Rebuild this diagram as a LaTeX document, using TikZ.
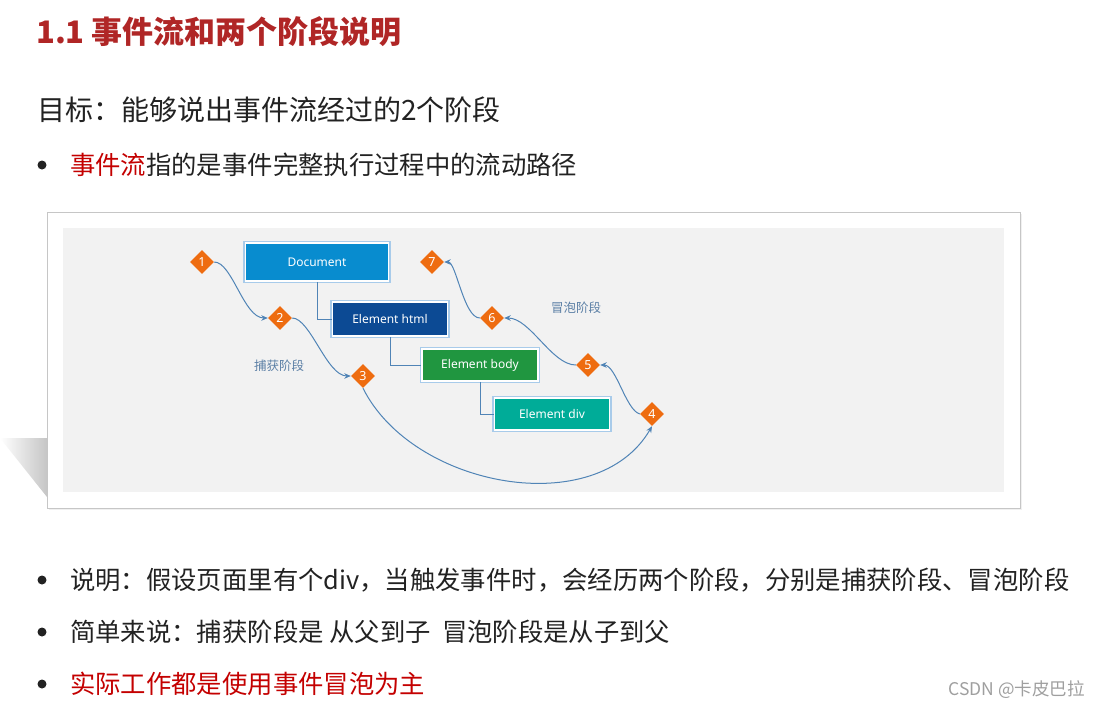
\documentclass[tikz,border=0pt]{standalone}
\usepackage{fontspec}
\setmainfont{Noto Sans CJK SC}
\newfontfamily\cjk{Noto Sans CJK SC}
\newfontfamily\latinsans{Noto Sans}
\usetikzlibrary{shapes.geometric,arrows.meta,calc}
\definecolor{titlered}{RGB}{176,38,38}
\definecolor{hotred}{RGB}{196,0,0}
\definecolor{textdark}{RGB}{34,34,34}
\definecolor{docblue}{RGB}{8,140,207}
\definecolor{htmlblue}{RGB}{12,74,148}
\definecolor{bodygreen}{RGB}{32,150,64}
\definecolor{divteal}{RGB}{0,172,152}
\definecolor{edgeblue}{RGB}{168,203,234}
\definecolor{diaorange}{RGB}{238,108,16}
\definecolor{flowblue}{RGB}{80,132,182}
\definecolor{labelblue}{RGB}{92,128,166}
\definecolor{panelgray}{RGB}{242,242,242}
\tikzset{
  elembox/.style={rectangle, minimum height=#1, inner sep=0pt, text=white,
    font=\latinsans\fontsize{12}{14}\selectfont,
    draw=white, line width=1.6pt,
    preaction={draw=edgeblue, line width=4.4pt}},
  marker/.style={diamond, fill=diaorange, minimum width=24pt, minimum height=24pt,
    inner sep=0pt, text=white, font=\latinsans\fontsize{12.5}{14}\selectfont},
  flow/.style={draw=flowblue, line width=1pt, -{Stealth[length=6.5pt,width=5.5pt]}},
  treeline/.style={draw=flowblue, line width=1pt},
  phase/.style={text=labelblue, font=\cjk\fontsize{12.5}{14}\selectfont},
  bodytext/.style={anchor=west, inner sep=0pt, text=textdark, font=\cjk\fontsize{25.35}{30}\selectfont},
  dot/.style={circle, fill=textdark, minimum size=9pt, inner sep=0pt}
}
\begin{document}
\begin{tikzpicture}[x=1pt,y=-1pt]
\useasboundingbox (0,0) rectangle (1100,707);
\fill[white] (0,0) rectangle (1100,707);

% title
\node[anchor=west, inner sep=0pt, text=titlered, font=\cjk\bfseries\fontsize{31}{36}\selectfont] (title) at (36,32) {1.1 事件流和两个阶段说明};
\node[bodytext, font=\cjk\fontsize{28}{32}\selectfont] (goal) at (37,110) {目标：能够说出事件流经过的2个阶段};
\node[dot] (b1) at (42,165) {};
\node[bodytext] (t1) at (70,165) {\textcolor{hotred}{事件流}指的是事件完整执行过程中的流动路径};

% picture frame and shadow
\shade[left color=white, right color=gray!45] (0,438) -- (47,438) -- (47,497) -- cycle;
\fill[gray!12] (49,214) rectangle (1022,510);
\fill[white] (47,212) rectangle (1020,508);
\draw[gray!45, line width=1pt] (47,212) rectangle (1020,508);
\fill[panelgray] (63,228) rectangle (1004,492);

% element boxes
\node[elembox=38pt, minimum width=143pt, fill=docblue] (doc) at (317,262) {Document};
\node[elembox=34pt, minimum width=115pt, fill=htmlblue] (html) at (390,319) {Element html};
\node[elembox=32pt, minimum width=116pt, fill=bodygreen] (body) at (480,365) {Element body};
\node[elembox=32pt, minimum width=115pt, fill=divteal] (div) at (552,414) {Element div};

\draw[treeline] (doc.south) |- (html.west);
\draw[treeline] (html.south) |- (body.west);
\draw[treeline] (body.south) |- (div.west);

% markers
\node[marker] (d1) at (202,262) {1};
\node[marker] (d2) at (280,318) {2};
\node[marker] (d3) at (363,376) {3};
\node[marker] (d4) at (652,414) {4};
\node[marker] (d5) at (588,365) {5};
\node[marker] (d6) at (492,318) {6};
\node[marker] (d7) at (432,262) {7};

% flow curves
\draw[flow] (d1.east) .. controls +(18,0) and +(-24,0) .. (d2.west);
\draw[flow] (d2.east) .. controls +(18,0) and +(-24,0) .. (d3.west);
\draw[flow] (d3.south) .. controls +(50,100) and +(-55,95) .. (d4.south);
\draw[flow] (d4.west) .. controls +(-14,-4) and +(16,0) .. (d5.east);
\draw[flow] (d5.west) .. controls +(-24,0) and +(26,0) .. (d6.east);
\draw[flow] (d6.west) .. controls +(-16,0) and +(12,0) .. (d7.east);

\node[phase] (cap) at (279,366) {捕获阶段};
\node[phase] (bub) at (576,308) {冒泡阶段};

% bullets
\node[dot] (b2) at (42,580) {};
\node[bodytext] (t2) at (70,580) {说明：假设页面里有个div，当触发事件时，会经历两个阶段，分别是捕获阶段、冒泡阶段};
\node[dot] (b3) at (42,632) {};
\node[bodytext] (t3) at (70,632) {简单来说：捕获阶段是 从父到子~ 冒泡阶段是从子到父};
\node[dot] (b4) at (42,684) {};
\node[bodytext, text=hotred] (t4) at (70,684) {实际工作都是使用事件冒泡为主};

\node[anchor=east, inner sep=0pt, text=gray!75, font=\cjk\fontsize{17.5}{20}\selectfont] (wm) at (1085,690) {CSDN @卡皮巴拉};
\end{tikzpicture}
\end{document}
